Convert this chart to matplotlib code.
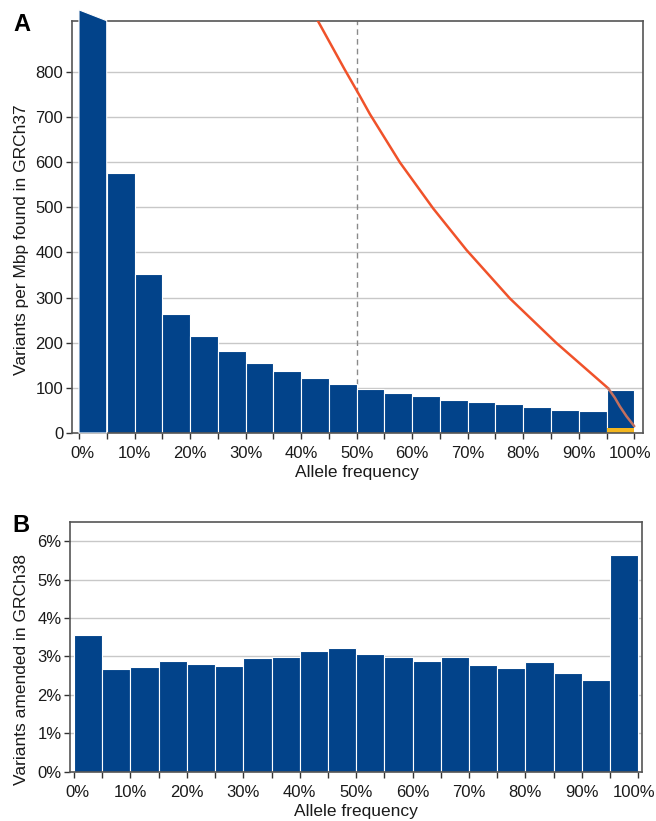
import matplotlib
matplotlib.use('Agg')
import matplotlib.pyplot as plt
import matplotlib.transforms as mtransforms
from matplotlib.patches import Polygon
from matplotlib.ticker import MultipleLocator, FuncFormatter

plt.rcParams['font.family'] = ['Liberation Sans Narrow', 'Liberation Sans', 'DejaVu Sans']

# ---------------- data ----------------
bin_left = [0.00, 0.05, 0.10, 0.15, 0.20, 0.25, 0.30, 0.35, 0.40, 0.45,
            0.50, 0.55, 0.60, 0.65, 0.70, 0.75, 0.80, 0.85, 0.90, 0.95]
bin_width = 0.05

# Panel A: variants per Mbp found in GRCh37 (first bar exceeds the axis)
variants_per_mbp = [1000, 575, 352, 263, 214, 181, 155, 137, 121, 109,
                    97, 89, 81, 74, 68, 64, 57, 52, 49, 95]
# yellow sub-bar in the last bin
yellow_bin = [0.95]
yellow_val = [12]

# orange curve
curve_x = [0.430, 0.452, 0.478, 0.505, 0.524, 0.578, 0.638, 0.698, 0.776, 0.860, 0.953]
curve_y = [913, 864, 806, 748, 706, 599, 497, 405, 298, 199, 99]
curve_tail_x = [0.953, 0.965, 0.974, 0.986, 1.000]
curve_tail_y = [99, 78, 59, 37, 15]

# Panel B: variants amended in GRCh38 (%)
amended_pct = [3.57, 2.67, 2.73, 2.87, 2.80, 2.74, 2.96, 2.98, 3.14, 3.23,
               3.06, 2.99, 2.88, 2.99, 2.77, 2.69, 2.86, 2.57, 2.39, 5.63]

xtick_major = [0.0, 0.1, 0.2, 0.3, 0.4, 0.5, 0.6, 0.7, 0.8, 0.9, 1.0]
yticks_A = [0, 100, 200, 300, 400, 500, 600, 700, 800]
yticks_B = [0, 1, 2, 3, 4, 5, 6]

BLUE = '#02438a'
ORANGE = '#f0522a'
TAIL = '#c4705e'
YELLOW = '#f3b61f'
GRID = '#c8c8c8'
SPINE = '#555555'
TXT = '#1a1a1a'

W, H = 656, 821
fig = plt.figure(figsize=(W / 100, H / 100), dpi=100)


def frac(l, r, t, b):
    return [l / W, 1 - b / H, (r - l) / W, (b - t) / H]


axA = fig.add_axes(frac(71.7, 643, 20.7, 433))
axB = fig.add_axes(frac(70, 642.3, 521.7, 771.7))


def style(ax, xlim, ylim, yticks, yfmt):
    ax.set_xlim(*xlim)
    ax.set_ylim(*ylim)
    ax.set_yticks(yticks)
    ax.yaxis.set_major_formatter(FuncFormatter(yfmt))
    ax.set_xticks(xtick_major)
    ax.set_xticklabels([f'{int(round(v * 100))}%' for v in xtick_major])
    ax.xaxis.set_minor_locator(MultipleLocator(0.05))
    for s in ax.spines.values():
        s.set_color(SPINE)
        s.set_linewidth(1.2)
    ax.tick_params(axis='both', which='both', direction='out', length=4.5,
                   width=1, color='#333333', labelcolor=TXT, labelsize=12)
    ax.tick_params(axis='y', pad=1.5)
    ax.tick_params(axis='x', pad=5)
    for t in yticks[1:]:
        ax.axhline(t, color=GRID, lw=1, zorder=0)
    ax.set_xlabel('Allele frequency', fontsize=12.5, color=TXT, labelpad=3)
    # nudge the edge labels inward a little, as in the original
    labels = ax.get_xticklabels()
    off_r = mtransforms.ScaledTranslation(-4 / 100, 0, fig.dpi_scale_trans)
    off_l = mtransforms.ScaledTranslation(3 / 100, 0, fig.dpi_scale_trans)
    labels[-1].set_transform(labels[-1].get_transform() + off_r)
    labels[0].set_transform(labels[0].get_transform() + off_l)


# ---------------- Panel A ----------------
ylimA = (0, 913)
style(axA, (-0.0131, 1.0157), ylimA, yticks_A, lambda v, p: f'{int(v)}')
axA.axvline(0.5, color='#8a8a8a', lw=1, ls=(0, (4, 3)), zorder=1)

for x, v in zip(bin_left, variants_per_mbp):
    if v > ylimA[1]:
        poly = Polygon([(x, 0), (x, ylimA[1] + 24), (x + bin_width, ylimA[1]),
                        (x + bin_width, 0)], closed=True, facecolor=BLUE,
                       edgecolor='white', lw=0.8, clip_on=False, zorder=3)
        axA.add_patch(poly)
    else:
        axA.bar(x, v, width=bin_width, align='edge', color=BLUE,
                edgecolor='white', lw=0.8, zorder=2)
axA.bar(yellow_bin, yellow_val, width=bin_width, align='edge', color=YELLOW,
        edgecolor='none', zorder=2.5)
axA.plot(curve_x, curve_y, color=ORANGE, lw=1.8, zorder=4, solid_capstyle='round',
         solid_joinstyle='round')
axA.plot(curve_tail_x, curve_tail_y, color=TAIL, lw=1.8, zorder=4, solid_capstyle='round',
         solid_joinstyle='round')
axA.set_ylabel('Variants per Mbp found in GRCh37', fontsize=12.5, color=TXT)
axA.yaxis.set_label_coords(-0.075, 0.468)

# ---------------- Panel B ----------------
style(axB, (-0.0071, 1.0071), (0, 6.51), yticks_B, lambda v, p: f'{int(v)}%')
axB.bar(bin_left, amended_pct, width=bin_width, align='edge', color=BLUE,
        edgecolor='white', lw=0.8, zorder=2)
axB.set_ylabel('Variants amended in GRCh38', fontsize=12.5, color=TXT)
axB.yaxis.set_label_coords(-0.072, 0.407)

fig.text(21.5 / W, 1 - 24.5 / H, 'A', fontsize=17, fontweight='bold',
         ha='center', va='center', color='black')
fig.text(20.5 / W, 1 - 525 / H, 'B', fontsize=17, fontweight='bold',
         ha='center', va='center', color='black')

fig.savefig('out.png', dpi=100)
